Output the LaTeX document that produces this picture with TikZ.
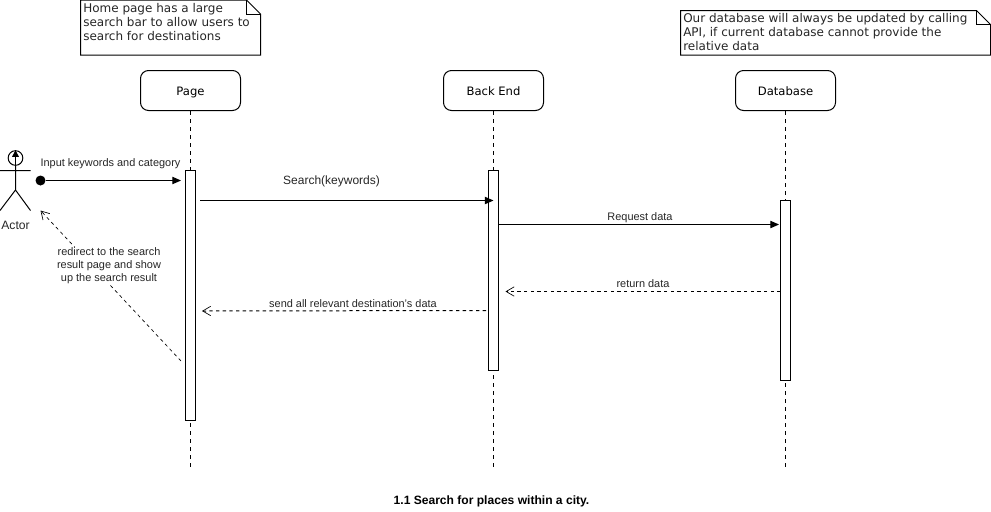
\documentclass[tikz,border=0pt]{standalone}
\usepackage{fontspec}
\setmainfont{Liberation Sans}
\newfontfamily\verdfont{DejaVu Sans}
\usetikzlibrary{positioning,arrows.meta}
\tikzset{>=stealth,
  lifebox/.style={draw,rounded corners=6pt,line width=.75pt,minimum width=75pt,minimum height=30pt,inner sep=0pt,text height=7.4pt,text depth=0pt,font=\verdfont\fontsize{8.7}{10}\selectfont},
  lifeline/.style={line width=.75pt,dashed,dash pattern=on 3pt off 3pt},
  actbar/.style={draw,fill=white,line width=.75pt,minimum width=7.5pt,inner sep=0pt,anchor=north},
  call/.style={line width=.75pt,-{Triangle[length=6.5pt,width=5.5pt]}},
  reply/.style={line width=.75pt,dashed,dash pattern=on 2.5pt off 2.5pt,-{Straight Barb[length=6pt,width=7pt,line width=.5pt]}},
  msglabel/.style={inner sep=0pt,text=black!85,font=\fontsize{8.2}{9.75}\selectfont},
  notetext/.style={anchor=north west,inner sep=0pt,align=left,text=black!85,font=\verdfont\fontsize{9}{10.5}\selectfont}}
\begin{document}
\begin{tikzpicture}[x=.75pt,y=-.75pt]
\useasboundingbox (0,0) rectangle (991,511);
% notes
\draw[line width=.75pt] (80.5,0) -- (246.5,0) -- (260.5,14) -- (260.5,55) -- (80.5,55) -- cycle;
\draw[line width=.75pt] (246.5,0) -- (246.5,14) -- (260.5,14);
\node[notetext] (homenote) at (83,3.5) {Home page has a large\\search bar to allow users to\\search for destinations};
\draw[line width=.75pt] (680.5,10.5) -- (976.5,10.5) -- (990.5,24.5) -- (990.5,55) -- (680.5,55) -- cycle;
\draw[line width=.75pt] (976.5,10.5) -- (976.5,24.5) -- (990.5,24.5);
\node[notetext] (dbnote) at (683,13.5) {Our database will always be updated by calling\\API, if current database cannot provide the\\relative data};
% lifelines
\node[lifebox] (page) at (190.5,90.5) {Page};
\node[lifebox] (backend) at (493.5,90.5) {Back End};
\node[lifebox] (database) at (785.5,90.5) {Database};
\coordinate (pageend) at (190.5,468);
\coordinate (backendend) at (493.5,468);
\coordinate (databaseend) at (785.5,468);
\draw[lifeline] (page) -- (pageend);
\draw[lifeline] (backend) -- (backendend);
\draw[lifeline] (database) -- (databaseend);
\node[actbar,minimum height=187.5pt] (pagebar) at (190.5,170) {};
\node[actbar,minimum height=150pt] (backendbar) at (493.5,170) {};
\node[actbar,minimum height=135pt] (databasebar) at (785.5,200) {};
% actor
\node[draw,circle,line width=.75pt,minimum size=11pt,inner sep=0pt] (head) at (15.5,158) {};
\draw[line width=.75pt,-{Triangle[length=5pt,width=5pt]}] (head.south) -- (head.north);
\coordinate (hip) at (15.5,190);
\draw[line width=.75pt] (head) -- (hip) -- (0,210.5) (hip) -- (30.5,210.5) (0,170.5) -- (30.5,170.5);
\node[msglabel,font=\fontsize{9.1}{10}\selectfont] (actor) at (15.5,225) {Actor};
% messages
\node[circle,fill,minimum size=7.5pt,inner sep=0pt] (startdot) at (40.5,180.5) {};
\coordinate (inend) at (181,180.5);
\draw[call] (startdot) -- (inend);
\node[msglabel] (inlabel) at (110.5,163.5) {Input keywords and category};
\coordinate (searchfrom) at (200,200.5);
\coordinate (searchto) at (493.5,200.5);
\draw[call] (searchfrom) -- (searchto);
\node[msglabel,font=\fontsize{9}{10}\selectfont] (searchlabel) at (331.5,181.5) {Search(keywords)};
\coordinate (reqfrom) at (498.5,224.5);
\coordinate (reqto) at (779,224.5);
\draw[call] (reqfrom) -- (reqto);
\node[msglabel] (reqlabel) at (640,217.5) {Request data};
\coordinate (retfrom) at (780.5,291.5);
\coordinate (retto) at (505.5,291.5);
\draw[reply] (retfrom) -- (retto);
\node[msglabel] (retlabel) at (643,284) {return data};
\coordinate (sendfrom) at (486,310.5);
\coordinate (sendto) at (202,311);
\draw[reply] (sendfrom) -- (sendto);
\node[msglabel] (sendlabel) at (353,304) {send all relevant destination's data};
\coordinate (redirfrom) at (181,361);
\coordinate (redirto) at (40.5,210.5);
\draw[reply,line width=.5pt] (redirfrom) -- (redirto);
\node[msglabel,fill=white,align=center] (redirlabel) at (109,265.5) {redirect to the search\\result page and show\\up the search result};
% caption
\node[inner sep=0pt,font=\bfseries\fontsize{9.05}{10}\selectfont] (caption) at (491.5,501) {1.1 Search for places within a city.};
\end{tikzpicture}
\end{document}
